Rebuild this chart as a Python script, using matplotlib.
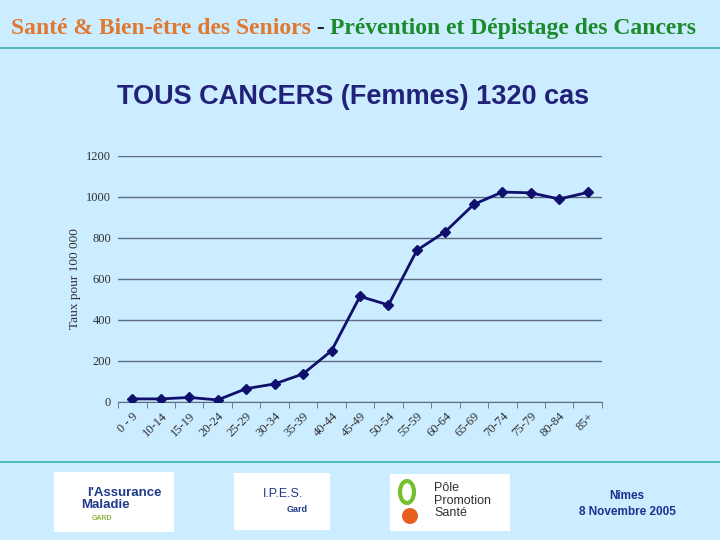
import matplotlib.pyplot as plt
import matplotlib.patches as patches

# Age groups and incidence rates (per 100 000), women, all cancers
age_groups = ['0 - 9', '10-14', '15-19', '20-24', '25-29', '30-34', '35-39',
              '40-44', '45-49', '50-54', '55-59', '60-64', '65-69', '70-74',
              '75-79', '80-84', '85+']
rates = [15, 15, 22, 10, 65, 88, 137, 250, 515, 473, 740, 831, 964, 1024,
         1020, 990, 1022]
y_ticks = [0, 200, 400, 600, 800, 1000, 1200]

BG = '#CCECFF'
NAVY = '#0F0F6E'

fig = plt.figure(figsize=(7.2, 5.4), dpi=100, facecolor=BG)

# header: three coloured parts placed one after another
header = [('Santé & Bien-être des Seniors', '#E07830'),
          (' - ', '#202020'),
          ('Prévention et Dépistage des Cancers', '#1A8A2A')]
renderer = fig.canvas.get_renderer()
xpos = 11 / 720
for txt, col in header:
    t = fig.text(xpos, 0.947, txt, family='Liberation Serif', weight='bold', size=17,
                 color=col, va='center')
    bb = t.get_window_extent(renderer=renderer)
    xpos += bb.width / 720
fig.add_artist(plt.Line2D([0, 1], [0.912, 0.912], color='#3AAFB0', lw=1.2))
fig.add_artist(plt.Line2D([0, 1], [0.145, 0.145], color='#3AAFB0', lw=1.2))

fig.text(0.490, 0.820, 'TOUS CANCERS (Femmes) 1320 cas', family='Liberation Sans',
         weight='bold', size=19.5, color='#22227A', ha='center', va='center')

ax = fig.add_axes([0.164, 0.2556, 0.672, 0.4556])
ax.set_facecolor(BG)
x = list(range(len(age_groups)))
ax.plot(x, rates, color=NAVY, lw=2, marker='D', markersize=5.5, zorder=3)
ax.set_xlim(-0.5, len(age_groups) - 0.5)
ax.set_ylim(0, 1200)
ax.set_yticks(y_ticks)
ax.set_yticklabels([str(v) for v in y_ticks], family='Liberation Serif', size=9,
                   color='#303030')
ax.yaxis.grid(True, color='#5E6E80', lw=1)
ax.set_axisbelow(True)
ax.tick_params(axis='y', length=0, pad=5)

ax.set_xticks(x)
ax.set_xticklabels(age_groups, rotation=45, ha='right', rotation_mode='anchor',
                   family='Liberation Serif', size=9, color='#303030')
ax.tick_params(axis='x', which='major', length=0, pad=6)
ax.set_xticks([i - 0.5 for i in range(len(age_groups) + 1)], minor=True)
ax.tick_params(axis='x', which='minor', length=4, color='#5E6E80', direction='out')
for s in ['top', 'right', 'left']:
    ax.spines[s].set_visible(False)
ax.spines['bottom'].set_color('#5E6E80')

ax.set_ylabel('Taux pour 100 000', family='Liberation Serif', size=9.5, color='#303030',
              labelpad=4)

# footer logos (placeholders drawn as white boxes with text)
def logo_box(x0, y0, w, h):
    r = patches.Rectangle((x0 / 720, 1 - (y0 + h) / 540), w / 720, h / 540,
                          transform=fig.transFigure, facecolor='white',
                          edgecolor='none')
    fig.add_artist(r)

logo_box(54, 472, 120, 60)
fig.text(124 / 720, 1 - 493 / 540, "l'Assurance", family='Liberation Sans', weight='bold',
         size=9.5, color='#1F3A8A', ha='center', va='center')
fig.text(105 / 720, 1 - 505 / 540, 'Maladie', family='Liberation Sans', weight='bold',
         size=9.5, color='#1F3A8A', ha='center', va='center')
fig.text(102 / 720, 1 - 518 / 540, 'GARD', family='Liberation Sans', weight='bold',
         size=5, color='#8CB040', ha='center', va='center')

logo_box(234, 473, 96, 57)
fig.text(283 / 720, 1 - 494 / 540, 'I.P.E.S.', family='Liberation Sans', size=9,
         color='#1F3A8A', ha='center', va='center')
fig.text(297 / 720, 1 - 509 / 540, 'Gard', family='Liberation Sans', weight='bold',
         size=6.5, color='#1F3A8A', ha='center', va='center')

logo_box(390, 474, 120, 57)
fig.add_artist(patches.Ellipse((407 / 720, 1 - 492 / 540), 14 / 720, 22 / 540,
                               transform=fig.transFigure, facecolor='none',
                               edgecolor='#70C030', lw=3))
fig.add_artist(patches.Ellipse((410 / 720, 1 - 516 / 540), 16 / 720, 16 / 540,
                               transform=fig.transFigure, facecolor='#E86020',
                               edgecolor='none'))
for i, t in enumerate(['Pôle', 'Promotion', 'Santé']):
    fig.text(434 / 720, 1 - (488 + i * 12.5) / 540, t, family='Liberation Sans', size=9,
             color='#303030', ha='left', va='center')

fig.text(627 / 720, 1 - 496 / 540, 'Nîmes', family='Liberation Sans', weight='bold',
         size=8.5, color='#1F2F8F', ha='center', va='center')
fig.text(627 / 720, 1 - 512 / 540, '8 Novembre 2005', family='Liberation Sans',
         weight='bold', size=8.5, color='#1F2F8F', ha='center', va='center')

fig.savefig('out.png', dpi=100, facecolor=BG)
